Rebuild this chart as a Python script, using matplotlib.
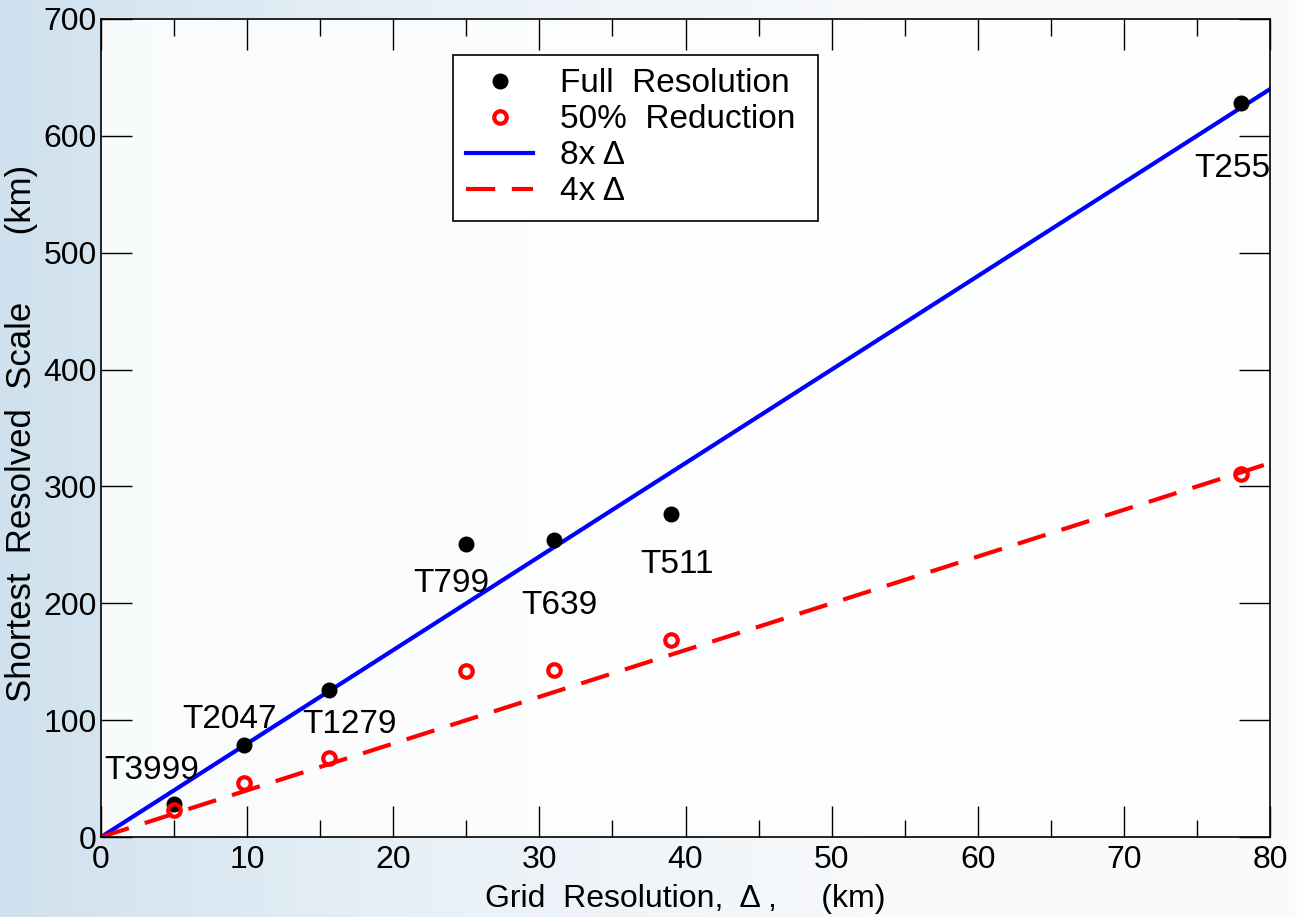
import numpy as np
import matplotlib
matplotlib.use("Agg")
import matplotlib.pyplot as plt
from matplotlib.colors import LinearSegmentedColormap

plt.rcParams['font.family'] = ['Liberation Sans', 'DejaVu Sans']

# Data
labels = ["T3999", "T2047", "T1279", "T799", "T639", "T511", "T255"]
grid_res = [5.0, 9.8, 15.6, 25.0, 31.0, 39.0, 78.0]
full_res = [28, 79, 126, 251, 254, 276, 628]
half_res = [23, 46, 68, 142, 143, 169, 311]
label_x = [3.5, 8.8, 17.0, 24.0, 31.4, 39.4, 77.4]
label_y = [57, 101, 96, 217, 198, 233, 572]
line_x = [0, 80]

fig = plt.figure(figsize=(12.97, 9.17), dpi=100)

# background gradient (decoration)
bg = fig.add_axes([0, 0, 1, 1], zorder=-10)
cmap = LinearSegmentedColormap.from_list('bg', ['#cfe1ee', '#e9f1f7', '#f7f9fb', '#fafbfc'])
grad = np.linspace(0, 1, 256)[None, :]
bg.imshow(grad, aspect='auto', cmap=cmap, extent=[0, 1, 0, 1])
bg.axis('off')

ax = fig.add_axes([0.0779, 0.0872, 0.9013, 0.8921])
ax.set_facecolor((1, 1, 1, 0.85))

ax.plot(line_x, [8 * v for v in line_x], color='#0000ff', lw=3, label='8x \u0394', zorder=2)
ax.plot(line_x, [4 * v for v in line_x], color='#ff0000', lw=3, dashes=(7, 4),
        label='4x \u0394', zorder=2)
ax.plot(grid_res, full_res, 'o', color='black', ms=10.5, ls='none',
        label='Full  Resolution', zorder=3)
ax.plot(grid_res, half_res, 'o', mfc='none', mec='#ff0000', mew=3, ms=9, ls='none',
        label='50%  Reduction ', zorder=3)

for lx, ly, t in zip(label_x, label_y, labels):
    ax.text(lx, ly, t, fontsize=24, ha='center', va='center')

ax.set_xlim(0, 80)
ax.set_ylim(0, 700)
ax.set_xticks(range(0, 81, 10))
ax.set_yticks(range(0, 701, 100))
ax.set_xticks(range(5, 80, 10), minor=True)
ax.tick_params(axis='both', which='major', direction='in', length=22, width=1,
               labelsize=23, top=True, right=True, pad=3)
ax.tick_params(axis='x', which='major', pad=6)
ax.tick_params(axis='x', which='minor', direction='in', length=12, width=1,
               top=True, bottom=True)
for s in ax.spines.values():
    s.set_linewidth(1.2)

ax.set_xlabel('Grid  Resolution,  \u0394 ,     (km)', fontsize=23, labelpad=6)
ax.set_ylabel('Shortest  Resolved  Scale       (km)', fontsize=25)
ax.yaxis.set_label_coords(-0.054, 0.493)

h, l = ax.get_legend_handles_labels()
order = [2, 3, 0, 1]
leg = ax.legend([h[i] for i in order], [l[i] for i in order], loc='upper left',
                bbox_to_anchor=(0.301, 0.956), fontsize=24, frameon=True, fancybox=False,
                edgecolor='black', framealpha=1, handlelength=2.0, labelspacing=0.15,
                borderpad=0.4, handletextpad=0.8, borderaxespad=0)
leg.get_frame().set_linewidth(1.2)

fig.savefig('out.png', dpi=100)
